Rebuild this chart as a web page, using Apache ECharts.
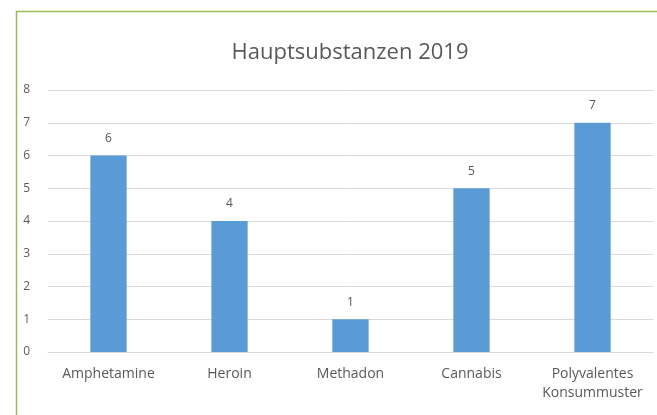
<!DOCTYPE html>
<html>
<head>
<meta charset="utf-8">
<script src="https://cdn.jsdelivr.net/npm/echarts@6/dist/echarts.min.js"></script>
<style>
html,body{margin:0;padding:0;background:#fff;}
#chart{width:657px;height:415px;}
</style>
</head>
<body>
<div id="chart"></div>
<script>
const chartTitle = 'Hauptsubstanzen 2019';
const categories = ['Amphetamine', 'Heroin', 'Methadon', 'Cannabis', 'Polyvalentes\nKonsummuster'];
const values = [6, 4, 1, 5, 7];
const yTicks = [0, 1, 2, 3, 4, 5, 6, 7, 8];

const chart = echarts.init(document.getElementById('chart'), null, {renderer: 'canvas'});
const textColor = '#595959';
const font = 'Open Sans';
chart.setOption({
  animation: false,
  backgroundColor: '#ffffff',
  graphic: [{
    type: 'rect',
    shape: {x: 16.5, y: 11.5, width: 800, height: 600},
    style: {fill: 'none', stroke: '#9bbb59', lineWidth: 1.5},
    silent: true
  }],
  title: {
    text: chartTitle,
    left: 345,
    textAlign: 'center',
    top: 37,
    textStyle: {fontFamily: font, fontSize: 22, fontWeight: 'normal', color: textColor}
  },
  grid: {left: 48, right: 4, top: 90, bottom: 63, containLabel: false},
  xAxis: {
    type: 'category',
    data: categories,
    axisLine: {show: true, lineStyle: {color: '#d9d9d9'}},
    axisTick: {show: false},
    axisLabel: {fontFamily: font, fontSize: 14, color: textColor, margin: 13, lineHeight: 19, interval: 0}
  },
  yAxis: {
    type: 'value',
    min: yTicks[0],
    max: yTicks[yTicks.length - 1],
    interval: 1,
    axisLine: {show: false},
    axisTick: {show: false},
    splitLine: {lineStyle: {color: '#d9d9d9'}},
    axisLabel: {fontFamily: font, fontSize: 12, color: textColor, margin: 18}
  },
  series: [{
    type: 'bar',
    data: values,
    barWidth: '30%',
    itemStyle: {color: '#5b9bd5'},
    label: {show: true, position: 'top', distance: 11, fontFamily: font, fontSize: 12, color: textColor}
  }]
});
</script>
</body>
</html>
